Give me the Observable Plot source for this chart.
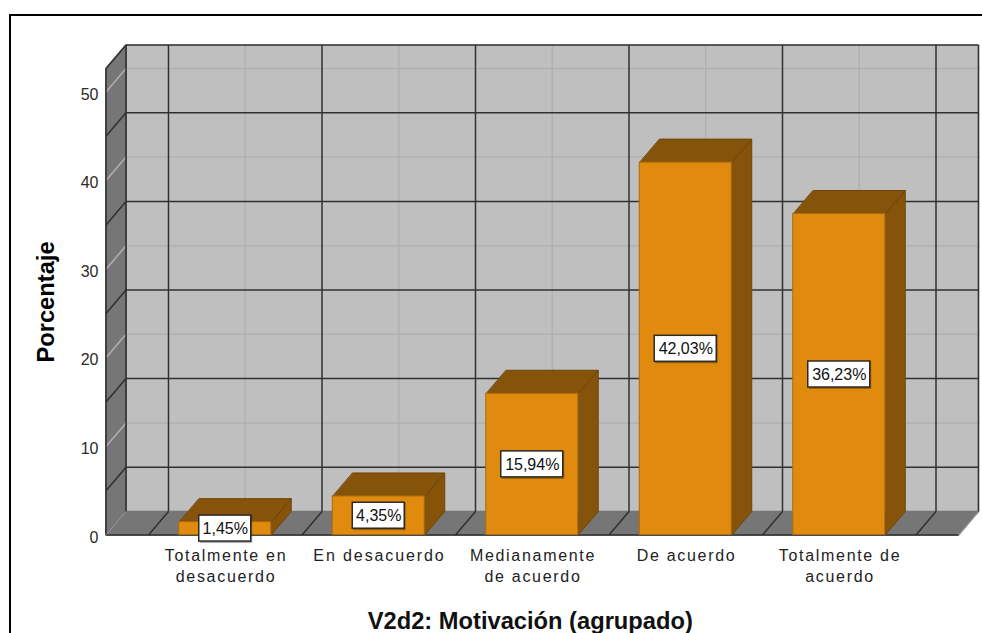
<!DOCTYPE html>
<html>
<head>
<meta charset="utf-8">
<script src="https://cdn.jsdelivr.net/npm/d3@7"></script>
<script src="https://cdn.jsdelivr.net/npm/@observablehq/plot@0.6"></script>
<style>
html,body{margin:0;padding:0;background:#fff;overflow:hidden}
#wrap{position:relative;width:982px;height:633px;overflow:hidden}
#frame{position:absolute;left:9px;top:14px;width:1000px;height:700px;border:2px solid #000;box-sizing:border-box}
svg{display:block}
g[aria-label="x-axis tick label"] text{letter-spacing:1.7px}
g[aria-label="x-axis tick label"] text:nth-child(2){letter-spacing:1.9px}
</style>
</head>
<body>
<div id="wrap"><div id="frame"></div></div>
<script>
const categories = ["Totalmente en\ndesacuerdo","En desacuerdo","Medianamente\nde acuerdo","De acuerdo","Totalmente de\nacuerdo"];
const values = [1.45,4.35,15.94,42.03,36.23];
const valueLabels = ["1,45%","4,35%","15,94%","42,03%","36,23%"];
const labelWidths = [52,52,62,62,62];
const yTicks = [0,10,20,30,40,50];
const minorY = [10,20,30,40,50];
const majorY = [5,15,25,35,45];
const xTicks = [0,1,2,3,4];
const majorX = [-0.5,0.5,1.5,2.5,3.5,4.5];

const pxX = 153.5, pxY = 8.86;            // px per unit
const origin = 224.75;                    // px position of the first category
const dX = 20/pxX, dY = 23.5/pxY;         // depth of the 3D box in data units
const xL = (105.5-origin)/pxX, xR = (958-origin)/pxX;
const yTop = 490/pxY, yFront = yTop-dY;
const halfBar = 46/pxX;

const FRONT="#e08b0e", SHADE="#85540a", EDGE="#a96b0c", WALL="#bfbfbf", SIDE="#767676", DARK="#303030", LIGHT="#b0b0b0";

const poly = (pts,o)=>Plot.line(pts,{x:"0",y:"1",curve:"linear-closed",...o});
const seg = (rows,o)=>Plot.link(rows,{x1:"a",y1:"b",x2:"c",y2:"d",...o});

const bars = values.map((v,i)=>({i,v,x1:i-halfBar,x2:i+halfBar}));
const marks = [
  // back wall, side wall, floor
  Plot.rect([0],{x1:()=>xL+dX,x2:()=>xR+dX,y1:()=>dY,y2:()=>yTop,fill:WALL}),
  poly([[xL,0],[xL+dX,dY],[xL+dX,yTop],[xL,yFront]],{fill:SIDE,stroke:SIDE}),
  poly([[xL,0],[xR,0],[xR+dX,dY],[xL+dX,dY]],{fill:SIDE,stroke:SIDE}),
  // minor grid
  seg(minorY.map(y=>({a:xL+dX,b:y+dY,c:xR+dX,d:y+dY})),{stroke:LIGHT,strokeWidth:1.5}),
  seg(minorY.map(y=>({a:xL,b:y,c:xL+dX,d:y+dY})),{stroke:LIGHT,strokeWidth:1.5}),
  seg(xTicks.map(i=>({a:i+dX,b:dY,c:i+dX,d:yTop})),{stroke:LIGHT,strokeWidth:1.5}),
  // major grid
  seg(majorY.map(y=>({a:xL+dX,b:y+dY,c:xR+dX,d:y+dY})),{stroke:DARK,strokeWidth:1.5}),
  seg(majorY.map(y=>({a:xL,b:y,c:xL+dX,d:y+dY})),{stroke:DARK,strokeWidth:1.5}),
  seg(majorX.map(x=>({a:x+dX,b:dY,c:x+dX,d:yTop})),{stroke:DARK,strokeWidth:1.5}),
  seg(majorX.map(x=>({a:x,b:0,c:x+dX,d:dY})),{stroke:DARK,strokeWidth:1.5}),
  // box edges
  seg([{a:xL+dX,b:dY,c:xL+dX,d:yTop},{a:xL+dX,b:yTop,c:xR+dX,d:yTop},{a:xL,b:yFront,c:xL+dX,d:yTop},{a:xL,b:0,c:xL,d:yFront},{a:xL,b:0,c:xR,d:0},{a:xR+dX,b:dY,c:xR+dX,d:yTop}],{stroke:DARK,strokeWidth:1.6}),
  seg([{a:xL,b:0,c:xL+dX,d:dY},{a:xR,b:0,c:xR+dX,d:dY}],{stroke:"#9a9a9a",strokeWidth:1}),
  // bars: side faces, tops, fronts
  Plot.line(bars.flatMap(b=>[[b.x2,0],[b.x2+dX,dY],[b.x2+dX,b.v+dY],[b.x2,b.v]].map(p=>({x:p[0],y:p[1],z:b.i}))),{x:"x",y:"y",z:"z",curve:"linear-closed",fill:SHADE,stroke:"#6f4608",strokeWidth:1}),
  Plot.line(bars.flatMap(b=>[[b.x1,b.v],[b.x2,b.v],[b.x2+dX,b.v+dY],[b.x1+dX,b.v+dY]].map(p=>({x:p[0],y:p[1],z:b.i}))),{x:"x",y:"y",z:"z",curve:"linear-closed",fill:SHADE,stroke:"#6f4608",strokeWidth:1}),
  Plot.rect(bars,{x1:"x1",x2:"x2",y1:()=>0,y2:"v",fill:FRONT,stroke:EDGE,strokeWidth:1}),
  // value labels
  Plot.rect(bars,{x1:d=>d.i-(labelWidths[d.i]/2-1)/pxX,x2:d=>d.i+(labelWidths[d.i]/2+1.5)/pxX,y1:d=>d.v/2-15/pxY,y2:d=>d.v/2+13/pxY,fill:"#000",fillOpacity:0.3}),
  Plot.rect(bars,{x1:d=>d.i-labelWidths[d.i]/2/pxX,x2:d=>d.i+labelWidths[d.i]/2/pxX,y1:d=>d.v/2-13/pxY,y2:d=>d.v/2+13/pxY,fill:"#fff",stroke:"#2a2a2a",strokeWidth:1.5}),
  Plot.text(bars,{x:"i",y:d=>d.v/2,text:d=>valueLabels[d.i],fontSize:16,fill:"#111"}),
  // axes
  Plot.axisY(yTicks,{anchor:"left",tickSize:0,tickPadding:7.5,fontSize:16,fill:"#2a2a2a",label:null,tickFormat:d=>d,dy:2.5}),
  Plot.axisX(xTicks,{anchor:"bottom",tickSize:0,tickPadding:11,fontSize:16,fill:"#222",label:null,tickFormat:i=>categories[i],lineHeight:1.31,dx:0.75}),
  Plot.text(["Porcentaje"],{frameAnchor:"left",textAnchor:"middle",dx:-59.5,dy:12,rotate:-90,fontSize:23.7,fontWeight:"bold",fill:"#000"}),
  Plot.text(["V2d2: Motivación (agrupado)"],{frameAnchor:"bottom",dx:-12,dy:93.5,fontSize:23.7,fontWeight:"bold",fill:"#111"})
];

const chart = Plot.plot({
  width:982,height:633,
  marginLeft:105.5,marginRight:4,marginTop:44.5,marginBottom:98.5,
  x:{type:"linear",domain:[xL,xR+dX],range:[105.5,978]},
  y:{type:"linear",domain:[0,yTop],range:[534.5,44.5]},
  style:{fontFamily:"'Liberation Sans',Arial,sans-serif",background:"transparent"},
  marks
});
document.getElementById("wrap").prepend(chart);
</script>
</body>
</html>
